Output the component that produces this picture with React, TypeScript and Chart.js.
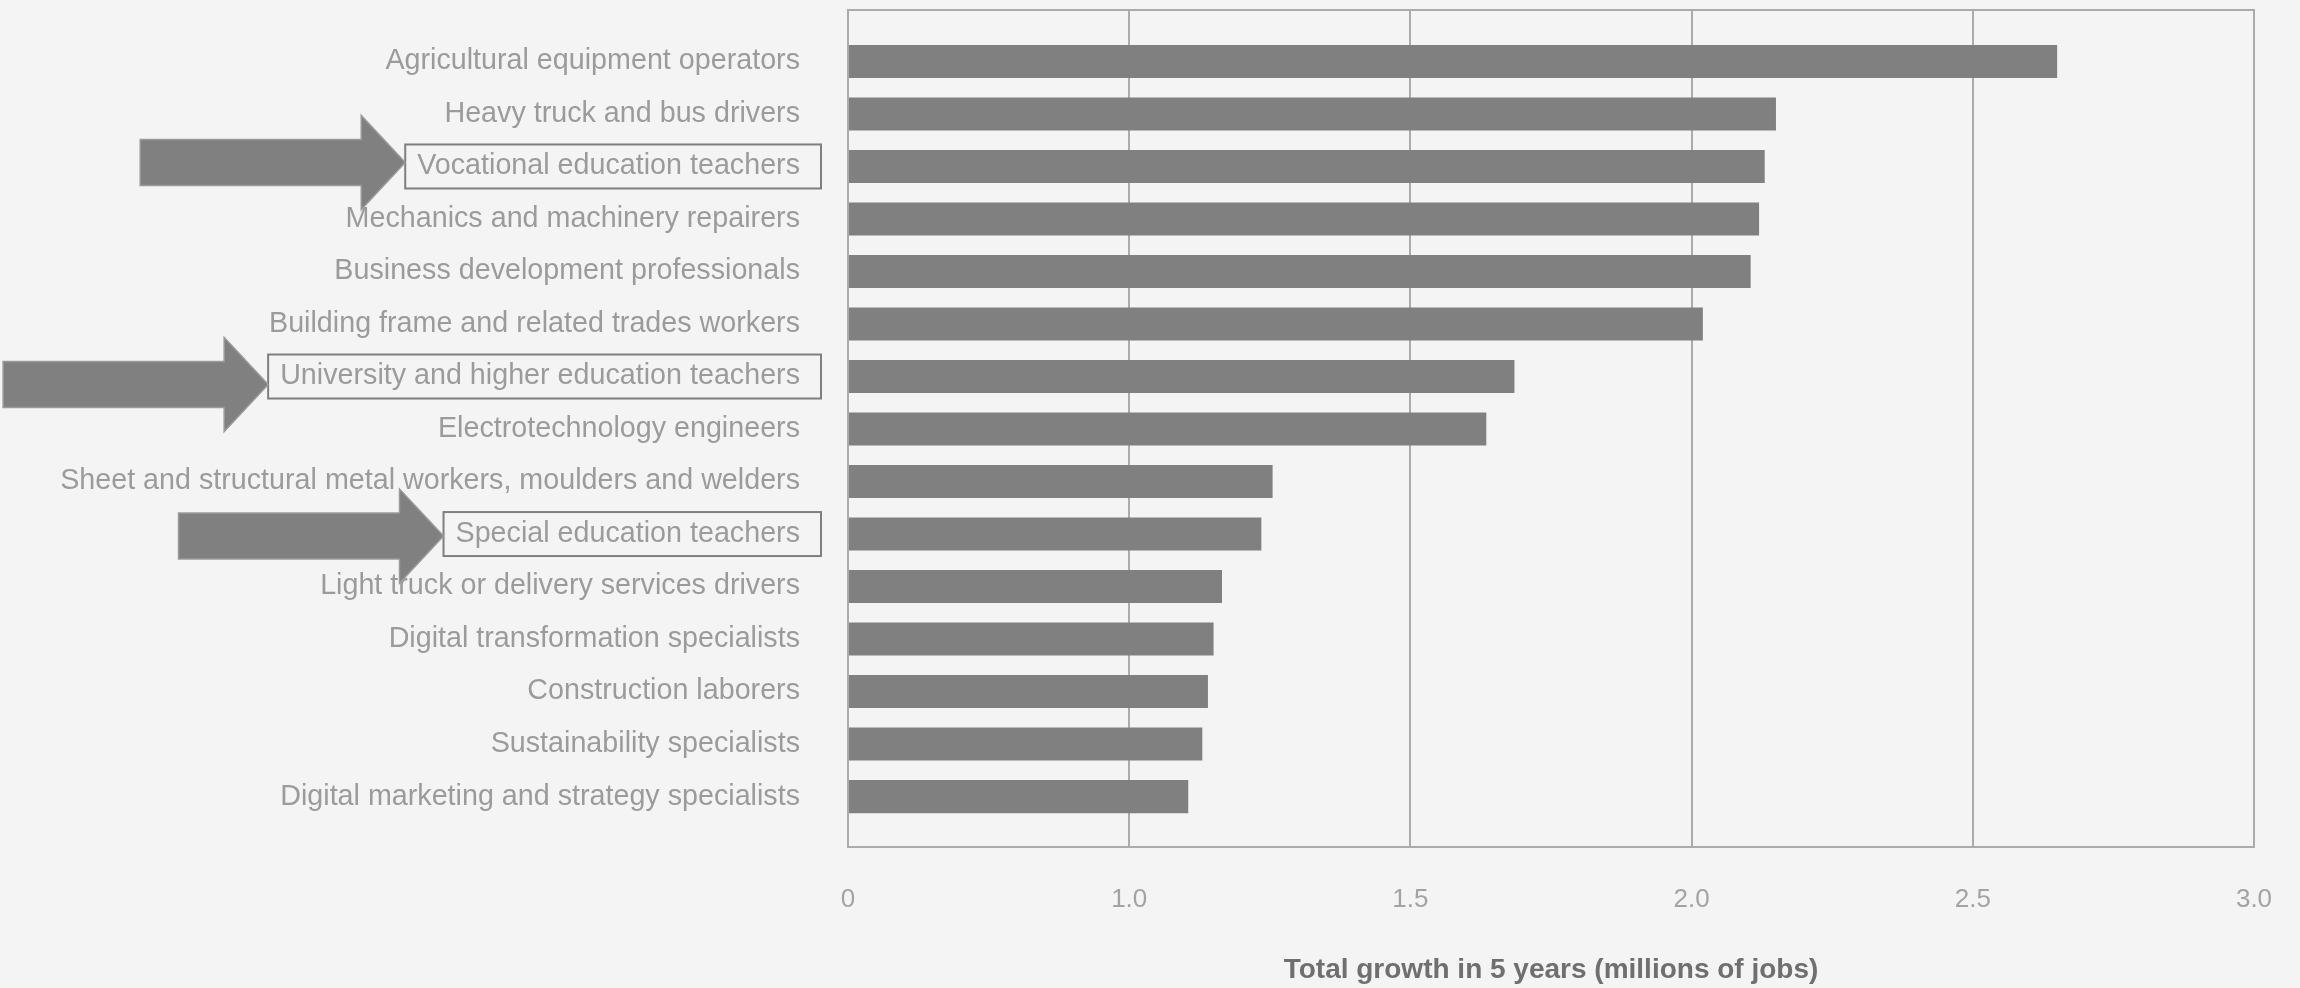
import { useEffect, useRef } from "react";
import { Chart, registerables } from "chart.js";

Chart.register(...registerables);

// Occupations, fastest-growing first
const occupations = [
  "Agricultural equipment operators",
  "Heavy truck and bus drivers",
  "Vocational education teachers",
  "Mechanics and machinery repairers",
  "Business development professionals",
  "Building frame and related trades workers",
  "University and higher education teachers",
  "Electrotechnology engineers",
  "Sheet and structural metal workers, moulders and welders",
  "Special education teachers",
  "Light truck or delivery services drivers",
  "Digital transformation specialists",
  "Construction laborers",
  "Sustainability specialists",
  "Digital marketing and strategy specialists",
];

// Total growth in 5 years, millions of jobs
const growthMillions = [
  2.65, 2.15, 2.13, 2.12, 2.105, 2.02, 1.685, 1.635, 1.255, 1.235, 1.165, 1.15, 1.14, 1.13, 1.105,
];

// The value axis is cut between 0 and 1.0: its first tick sits at the cut and reads "0"
const xTickValues = [0.5, 1.0, 1.5, 2.0, 2.5, 3.0];
const xTickLabels = ["0", "1.0", "1.5", "2.0", "2.5", "3.0"];

// Rows called out with a framed label and an arrow (arrow vertical shift in px)
const calloutRows = ["Vocational education teachers", "University and higher education teachers", "Special education teachers"];
const calloutArrowShift = [-4, 8, 2];

const FONT_FAMILY = '"Liberation Sans", Arial, Helvetica, sans-serif';
const LABEL_SIZE = 28.7;
const LABEL_PAD = 48;
const BG = "#f4f4f4";
const BAR = "#808080";
const LINE = "#ababab";

const framePlugin = {
  id: "frameAndCallouts",
  beforeDraw(chart: any) {
    const { ctx, width, height } = chart;
    ctx.save();
    ctx.fillStyle = BG;
    ctx.fillRect(0, 0, width, height);
    ctx.restore();
  },
  afterDatasetsDraw(chart: any) {
    const { ctx, chartArea } = chart;
    ctx.save();
    ctx.strokeStyle = LINE;
    ctx.lineWidth = 2;
    ctx.strokeRect(chartArea.left, chartArea.top, chartArea.right - chartArea.left, chartArea.bottom - chartArea.top);
    ctx.restore();
  },
  afterDraw(chart: any) {
    const { ctx, chartArea, scales } = chart;
    const yScale = scales.y;
    ctx.save();
    ctx.font = `${LABEL_SIZE}px ${FONT_FAMILY}`;
    const textRight = chartArea.left - LABEL_PAD;
    calloutRows.forEach((name, k) => {
      const idx = occupations.indexOf(name);
      const cy = yScale.getPixelForValue(idx);
      const w = ctx.measureText(name).width;
      const boxLeft = textRight - w - 12;
      const boxRight = chartArea.left - 27;
      // frame around the label
      ctx.strokeStyle = "#7f7f7f";
      ctx.lineWidth = 2;
      ctx.strokeRect(boxLeft, cy - 22, boxRight - boxLeft, 44);
      // block arrow pointing at the frame
      const ay = cy + calloutArrowShift[k];
      const tip = boxLeft;
      const headBase = tip - 44;
      const tail = tip - 265;
      ctx.beginPath();
      ctx.moveTo(tail, ay - 23);
      ctx.lineTo(headBase, ay - 23);
      ctx.lineTo(headBase, ay - 47);
      ctx.lineTo(tip, ay);
      ctx.lineTo(headBase, ay + 47);
      ctx.lineTo(headBase, ay + 23);
      ctx.lineTo(tail, ay + 23);
      ctx.closePath();
      ctx.fillStyle = BAR;
      ctx.fill();
      ctx.strokeStyle = "#9a9a9a";
      ctx.lineWidth = 1.5;
      ctx.stroke();
    });
    ctx.restore();
  },
};

function GrowthChart() {
  const canvasRef = useRef<HTMLCanvasElement | null>(null);

  useEffect(() => {
    if (!canvasRef.current) return;
    const chart = new Chart(canvasRef.current, {
      type: "bar",
      data: {
        datasets: [
          {
            data: occupations.map((_, i) => ({ x: growthMillions[i], y: i })),
            backgroundColor: BAR,
            borderWidth: 0,
            barPercentage: 0.63,
            categoryPercentage: 1,
            clip: 0,
          } as any,
        ],
      },
      options: {
        animation: false,
        responsive: false,
        devicePixelRatio: 1,
        indexAxis: "y",
        layout: { padding: { top: 10, right: 46, bottom: 0, left: 0 } },
        plugins: {
          legend: { display: false },
          tooltip: { enabled: false },
        },
        scales: {
          x: {
            type: "linear",
            min: 0.5,
            max: 3.0,
            afterBuildTicks: (s: any) => {
              s.ticks = xTickValues.map((v) => ({ value: v }));
            },
            afterFit: (s: any) => {
              s.height = 141;
              s.paddingLeft = 0;
              s.paddingRight = 0;
            },
            ticks: {
              callback: (_v: any, i: number) => xTickLabels[i],
              font: { family: FONT_FAMILY, size: 26 },
              color: "#a3a3a3",
              padding: 37,
              maxRotation: 0,
            },
            grid: { color: LINE, lineWidth: 2, drawTicks: false },
            border: { display: false },
            title: {
              display: true,
              text: "Total growth in 5 years (millions of jobs)",
              font: { family: FONT_FAMILY, size: 28, weight: "bold" },
              color: "#6f6f6f",
              padding: { top: 39, bottom: 1 },
            },
          },
          y: {
            type: "linear",
            reverse: true,
            offset: false,
            min: -0.98,
            max: 14.96,
            afterBuildTicks: (s: any) => {
              s.ticks = occupations.map((_, i) => ({ value: i }));
            },
            afterFit: (s: any) => {
              s.width = 848;
              s.paddingTop = 0;
              s.paddingBottom = 0;
            },
            ticks: {
              callback: (v: any) => occupations[Number(v)],
              font: { family: FONT_FAMILY, size: LABEL_SIZE },
              color: "#9b9b9b",
              padding: LABEL_PAD,
            },
            grid: { display: false, drawTicks: false, offset: false },
            border: { display: false },
          },
        },
      } as any,
      plugins: [framePlugin],
    });
    return () => chart.destroy();
  }, []);

  return <canvas ref={canvasRef} width={2300} height={988} style={{ display: "block" }} />;
}

export default function App() {
  return (
    <div style={{ position: "fixed", left: 0, top: 0, width: 2300, height: 988, background: BG }}>
      <GrowthChart />
    </div>
  );
}
